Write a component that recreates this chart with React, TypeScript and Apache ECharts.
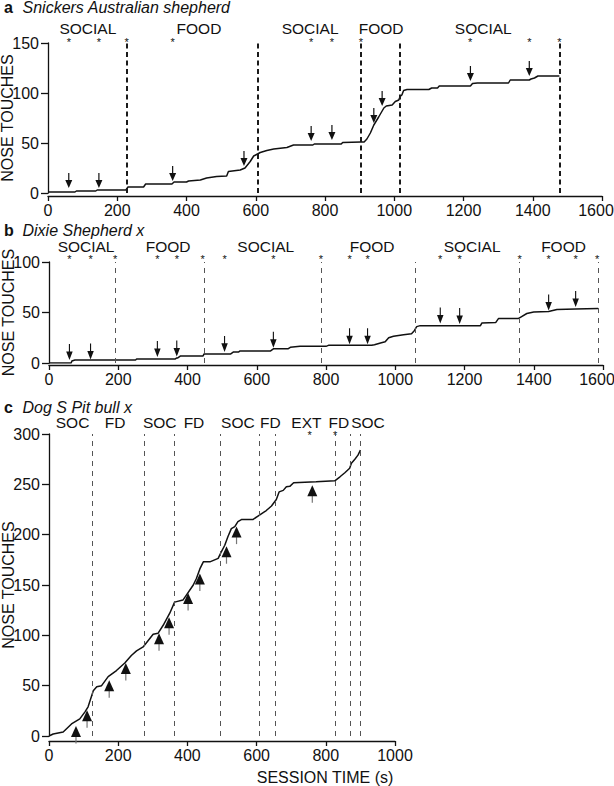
import React, { useEffect, useRef } from 'react';
import * as echarts from 'echarts';

const FONT = '"Liberation Sans", Arial, Helvetica, sans-serif';
const INK = '#111';

// ---------- Panel a: Snickers Australian shepherd ----------
const aTimes = [0, 78, 82, 138, 142, 225, 231, 276, 282, 358, 364, 400, 406, 440, 458, 487, 516, 521, 555, 569, 584, 594, 613, 632, 652, 690, 709, 765, 769, 847, 851, 904, 913, 921, 931, 941, 955, 970, 977, 994, 1003, 1013, 1017, 1022, 1027, 1037, 1100, 1108, 1125, 1130, 1220, 1226, 1240, 1330, 1335, 1390, 1395, 1405, 1415, 1477];
const aCounts = [1, 1, 2, 2, 3, 3, 6, 6, 9, 9, 11, 11, 12, 13, 15, 16.5, 17, 21.5, 23, 25, 31.5, 37, 40.5, 42.5, 44, 45.5, 48, 48, 49, 49, 50.5, 51, 51, 54, 60, 68, 76, 85, 87, 88, 91.5, 93, 96.5, 98, 102.5, 103.5, 103.5, 105, 105, 107, 107, 109.5, 110, 110, 113, 113, 114, 115, 117, 117];
const aBoundaries = [227, 607, 904, 1017, 1477];
const aStarTimes = [60, 147, 227, 360, 760, 820, 904, 1219, 1390, 1477];
const aArrowTimes = [60, 147, 360, 566, 760, 820, 941, 965, 1220, 1390];
const aArrowTips = [5, 5, 12, 27, 52, 53, 70, 87, 112, 117];
const aConditions = ['SOCIAL', 'FOOD', 'SOCIAL', 'FOOD', 'SOCIAL'];
const aConditionTimes = [115, 436, 757, 962, 1257];

// ---------- Panel b: Dixie Shepherd x ----------
const bTimes = [0, 64, 66, 75, 250, 253, 365, 369, 372, 380, 445, 448, 525, 533, 548, 552, 640, 648, 690, 697, 725, 800, 807, 932, 940, 960, 971, 981, 995, 1024, 1047, 1055, 1062, 1072, 1246, 1250, 1290, 1298, 1355, 1365, 1380, 1400, 1443, 1467, 1521, 1586];
const bCounts = [0, 0, 2, 3, 3, 4, 4, 5, 5, 7, 7, 9, 9, 11, 11, 12, 12, 14, 14, 15.5, 16.5, 16.5, 17.5, 17.5, 18, 20, 21, 25, 26.5, 28, 29, 32, 36, 37, 37, 39.5, 40, 44, 44, 46, 49, 50.5, 51, 53, 53.5, 54];
const bBoundaries = [191, 448, 785, 1058, 1359, 1586];
const bStarTimes = [59, 120, 191, 313, 369, 444, 507, 648, 785, 868, 920, 1130, 1186, 1359, 1443, 1521, 1583];
const bArrowTimes = [59, 120, 313, 369, 507, 648, 868, 920, 1130, 1186, 1443, 1521];
const bArrowTips = [3, 3.5, 6, 6.5, 11, 15, 18.5, 18.5, 39, 38.5, 52, 55.5];
const bConditions = ['SOCIAL', 'FOOD', 'SOCIAL', 'FOOD', 'SOCIAL', 'FOOD'];
const bConditionTimes = [107, 344, 626, 933, 1222, 1486];

// ---------- Panel c: Dog S Pit bull x ----------
const cTimes = [0, 12, 41, 65, 89, 104, 113, 128, 138, 152, 171, 195, 219, 238, 253, 272, 301, 315, 330, 349, 363, 387, 397, 417, 426, 436, 446, 465, 489, 498, 508, 517, 527, 537, 546, 556, 589, 604, 619, 628, 643, 657, 665, 677, 686, 696, 707, 772, 826, 841, 855, 869, 874, 884, 893, 900];
const cCounts = [0, 2, 4, 12, 17, 24, 29, 45, 49, 50, 59, 65, 72.5, 80, 84.5, 88.5, 101, 102, 110, 122, 133, 135, 140, 150, 156.5, 166, 173, 173, 176.5, 183, 189.5, 198, 206, 208, 213, 215, 215, 218.5, 222, 224, 228.5, 235, 242.5, 244, 247.5, 248, 251.5, 252.5, 253.5, 257.5, 261.5, 266, 271, 275, 279, 284];
const cBoundaries = [126, 274, 362, 495, 607, 655, 826, 871, 899];
const cStarTimes = [753, 827];
const cTriangleTimes = [78, 110, 174, 222, 318, 347, 402, 436, 513, 542, 761];
const cTriangleTips = [10, 25.5, 55.5, 72.5, 102, 118, 142, 161.5, 188.5, 208, 249];
const cConditions = ['SOC', 'FD', 'SOC', 'FD', 'SOC', 'FD', 'EXT', 'FD', 'SOC'];
const cConditionTimes = [68, 191, 320, 419, 546, 640, 744, 838, 922];

const DOWN_ARROW = 'path://M2.9,0 H4.1 V7 H7 L3.5,15 L0,7 H2.9 Z';

export default function App() {
  const ref = useRef<HTMLDivElement>(null);

  useEffect(() => {
    const chart = echarts.init(ref.current as HTMLDivElement, null, { renderer: 'svg' });

    const panels = [
      {
        grid: { left: 48, top: 43, width: 554, height: 150 },
        xMax: 1600, yMax: 150, xOffset: 3, maxLabelPad: 12,
        times: aTimes, counts: aCounts, bounds: aBoundaries,
        boundStyle: { color: '#1a1a1a', width: 2, type: [5, 3.5] },
        stars: aStarTimes, starPx: 3.3, conds: aConditions, condTimes: aConditionTimes, condPx: 14.3,
        marks: 'arrow', markTimes: aArrowTimes, markTips: aArrowTips, arrowSize: [7, 15],
      },
      {
        grid: { left: 49, top: 262, width: 554, height: 101 },
        xMax: 1600, yMax: 100, xOffset: 2, maxLabelPad: 12,
        times: bTimes, counts: bCounts, bounds: bBoundaries,
        boundStyle: { color: '#555', width: 1, type: [5, 5] },
        stars: bStarTimes, starPx: 5.7, conds: bConditions, condTimes: bConditionTimes, condPx: 16,
        marks: 'arrow', markTimes: bArrowTimes, markTips: bArrowTips, arrowSize: [6.5, 16],
      },
      {
        grid: { left: 49, top: 434, width: 346, height: 302 },
        xMax: 1000, yMax: 300, xOffset: 5, maxLabelPad: 0,
        times: cTimes, counts: cCounts, bounds: cBoundaries,
        boundStyle: { color: '#555', width: 1, type: [5, 5] },
        stars: cStarTimes, starPx: 1, conds: cConditions, condTimes: cConditionTimes, condPx: 11.3,
        marks: 'triangle', markTimes: cTriangleTimes, markTips: cTriangleTips, arrowSize: [10, 11],
      },
    ];

    const STAR_FS = 11;
    const grids: any[] = [];
    const xAxes: any[] = [];
    const yAxes: any[] = [];
    const series: any[] = [];
    const plain = (v: number) => String(v);

    panels.forEach((p, i) => {
      const perPx = p.yMax / p.grid.height;
      grids.push({ ...p.grid, outerBoundsMode: 'none', containLabel: false });
      xAxes.push({
        type: 'value', gridIndex: i, min: 0, max: p.xMax, interval: 200, offset: p.xOffset,
        axisLine: { show: true, onZero: false, lineStyle: { color: INK, width: 1.3 } },
        axisTick: { show: true, length: 5, lineStyle: { color: INK, width: 1.3 } },
        axisLabel: {
          fontSize: 16, color: INK, margin: 6, fontFamily: FONT,
          formatter: (v: number) => (v === p.xMax && p.maxLabelPad ? `{r|${v}}` : String(v)),
          rich: { r: { fontSize: 16, color: INK, fontFamily: FONT, padding: [0, p.maxLabelPad, 0, 0] } },
        },
        splitLine: { show: false },
      });
      yAxes.push({
        type: 'value', gridIndex: i, min: 0, max: p.yMax, interval: 50,
        axisLine: { show: true, onZero: false, lineStyle: { color: INK, width: 1.3 } },
        axisTick: { show: true, length: 7, lineStyle: { color: INK, width: 1.3 } },
        axisLabel: { fontSize: 16, color: INK, margin: 9, fontFamily: FONT, formatter: plain },
        splitLine: { show: false },
        name: 'NOSE TOUCHES', nameLocation: 'middle', nameGap: 33, nameMoveOverlap: false,
        nameTextStyle: { fontSize: 16, color: INK, fontFamily: FONT },
      });

      series.push({
        type: 'line', xAxisIndex: i, yAxisIndex: i,
        data: p.times.map((t, k) => [t, p.counts[k]]),
        showSymbol: false, symbol: 'none',
        lineStyle: { color: INK, width: 1.5 },
        markLine: {
          silent: true, symbol: ['none', 'none'], label: { show: false },
          lineStyle: p.boundStyle,
          data: p.bounds.map((t) => ({ xAxis: t })),
        },
      });

      series.push({
        type: 'scatter', xAxisIndex: i, yAxisIndex: i, clip: false, silent: true,
        symbolSize: 0, itemStyle: { opacity: 1 },
        data: p.stars.map((t) => [t, p.yMax + (p.starPx - 0.22 * STAR_FS) * perPx]),
        label: { show: true, position: 'inside', formatter: '*', fontSize: STAR_FS, lineHeight: 5, color: INK, fontFamily: FONT, opacity: 1 },
      });

      series.push({
        type: 'scatter', xAxisIndex: i, yAxisIndex: i, clip: false, silent: true,
        symbolSize: 0, itemStyle: { opacity: 1 },
        data: p.condTimes.map((t, k) => ({ value: [t, p.yMax + p.condPx * perPx], name: p.conds[k] })),
        label: { show: true, position: 'inside', formatter: '{b}', fontSize: 15.5, lineHeight: 12, color: INK, fontFamily: FONT, opacity: 1 },
      });

      if (p.marks === 'arrow') {
        series.push({
          type: 'scatter', xAxisIndex: i, yAxisIndex: i, clip: false, silent: true,
          symbol: DOWN_ARROW, symbolSize: p.arrowSize, symbolOffset: [0, '-50%'],
          itemStyle: { color: INK, opacity: 1 },
          data: p.markTimes.map((t, k) => [t, p.markTips[k]]),
        });
      } else {
        series.push({
          type: 'scatter', xAxisIndex: i, yAxisIndex: i, clip: false, silent: true,
          symbol: 'rect', symbolSize: [1.2, 7], symbolOffset: [0, 14],
          itemStyle: { color: '#777', opacity: 1 },
          data: p.markTimes.map((t, k) => [t, p.markTips[k]]),
        });
        series.push({
          type: 'scatter', xAxisIndex: i, yAxisIndex: i, clip: false, silent: true,
          symbol: 'triangle', symbolSize: p.arrowSize, symbolOffset: [0, '50%'],
          itemStyle: { color: INK, opacity: 1 },
          data: p.markTimes.map((t, k) => [t, p.markTips[k]]),
        });
      }
    });

    const titles = [
      { letter: 'a', name: 'Snickers Australian shepherd', y: 7 },
      { letter: 'b', name: 'Dixie Shepherd x', y: 230.5 },
      { letter: 'c', name: 'Dog S Pit bull x', y: 407.5 },
    ];
    const graphic: any[] = [];
    titles.forEach((t) => {
      graphic.push({
        type: 'text', x: 4, y: t.y,
        style: { text: t.letter, font: `bold 16px ${FONT}`, fill: INK, textVerticalAlign: 'middle' },
      });
      graphic.push({
        type: 'text', x: 22.5, y: t.y,
        style: { text: t.name, font: `italic 16px ${FONT}`, fill: INK, textVerticalAlign: 'middle' },
      });
    });
    graphic.push({
      type: 'text', x: 325, y: 777,
      style: { text: 'SESSION TIME (s)', font: `16px ${FONT}`, fill: INK, textAlign: 'center', textVerticalAlign: 'middle' },
    });

    chart.setOption({
      animation: false,
      backgroundColor: '#fff',
      textStyle: { fontFamily: FONT },
      grid: grids,
      xAxis: xAxes,
      yAxis: yAxes,
      series,
      graphic,
    });

    return () => chart.dispose();
  }, []);

  return <div ref={ref} style={{ position: 'fixed', left: 0, top: 0, width: 614, height: 786 }} />;
}
